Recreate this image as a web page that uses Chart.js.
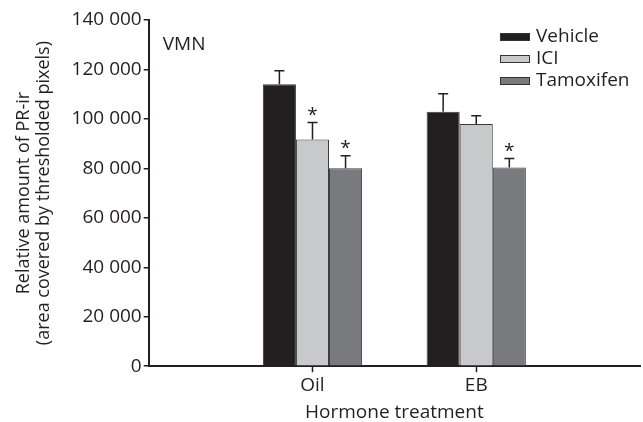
<!DOCTYPE html>
<html>
<head>
<meta charset="utf-8">
<script src="https://cdn.jsdelivr.net/npm/chart.js@4.4.0/dist/chart.umd.min.js"></script>
<style>
    html, body { margin: 0; padding: 0; background: #fff; }
    #wrap { width: 643px; height: 422px; }
</style>
</head>
<body>
<div id="wrap"><canvas id="chart"></canvas></div>
<script>
// ---- data ----
const categories = ['', 'Oil', 'EB', ''];
const seriesNames = ['Vehicle', 'ICI', 'Tamoxifen'];
const vehicle = [null, 114000, 102900, null];
const ici = [null, 91700, 97900, null];
const tamoxifen = [null, 80000, 80400, null];
const vehicleErr = [null, 5500, 7300, null];
const iciErr = [null, 6800, 3400, null];
const tamoxifenErr = [null, 5100, 3600, null];
// significance stars (*) per bar
const vehicleStar = [false, false, false, false];
const iciStar = [false, true, false, false];
const tamoxifenStar = [false, true, true, false];
const yTicks = [0, 20000, 40000, 60000, 80000, 100000, 120000, 140000];
const yTickLabels = ['0', '20 000', '40 000', '60 000', '80 000', '100 000', '120 000', '140 000'];
const panelLabel = 'VMN';

const FONT = '"Open Sans", "DejaVu Sans", sans-serif';
const INK = '#231f20';
const fills = ['#231f20', '#c8c9cb', '#797a7d'];
const errs = [vehicleErr, iciErr, tamoxifenErr];
const stars = [vehicleStar, iciStar, tamoxifenStar];

// error bars (upper only), stars, panel label, legend, x tick marks
const extras = {
    id: 'extras',
    afterDatasetsDraw(chart) {
        const ctx = chart.ctx;
        const x = chart.scales.x;
        const y = chart.scales.y;
        ctx.save();
        ctx.strokeStyle = INK;
        ctx.fillStyle = INK;
        ctx.lineWidth = 1.5;

        // tick marks under the named categories only
        categories.forEach((c, i) => {
            if (!c) return;
            const px = Math.round(x.getPixelForValue(i)) + 0.5;
            ctx.beginPath();
            ctx.moveTo(px, x.top);
            ctx.lineTo(px, x.top + 6);
            ctx.stroke();
        });

        chart.data.datasets.forEach((ds, i) => {
            const meta = chart.getDatasetMeta(i);
            meta.data.forEach((bar, j) => {
                const v = ds.data[j];
                if (v == null) return;
                const top = y.getPixelForValue(v + errs[i][j]);
                ctx.beginPath();
                ctx.moveTo(bar.x, bar.y);
                ctx.lineTo(bar.x, top);
                ctx.moveTo(bar.x - 5, top);
                ctx.lineTo(bar.x + 5, top);
                ctx.stroke();
                if (stars[i][j]) {
                    ctx.font = '19px ' + FONT;
                    ctx.textAlign = 'center';
                    ctx.textBaseline = 'middle';
                    ctx.fillText('*', bar.x, top - 7);
                }
            });
        });

        const area = chart.chartArea;
        ctx.font = '19px ' + FONT;
        ctx.textAlign = 'left';
        ctx.textBaseline = 'middle';
        ctx.fillText(panelLabel, area.left + 14, 45);

        // legend
        seriesNames.forEach((name, i) => {
            const cy = 37 + i * 22;
            ctx.fillStyle = fills[i];
            ctx.fillRect(500, cy - 3.5, 30, 7);
            ctx.lineWidth = 1;
            ctx.strokeStyle = '#333';
            ctx.strokeRect(500.5, cy - 3.5, 29, 7);
            ctx.fillStyle = INK;
            ctx.fillText(name, 536, cy);
        });
        ctx.restore();
    }
};

const chart = new Chart(document.getElementById('chart'), {
    type: 'bar',
    data: {
        labels: categories,
        datasets: [vehicle, ici, tamoxifen].map((d, i) => ({
            label: seriesNames[i],
            data: d,
            backgroundColor: fills[i],
            borderColor: '#3a3a3a',
            borderWidth: 1,
            categoryPercentage: 0.606,
            barPercentage: 1
        }))
    },
    options: {
        responsive: true,
        maintainAspectRatio: false,
        animation: false,
        layout: { padding: { top: 20, right: 3, bottom: 0, left: 14 } },
        plugins: {
            legend: { display: false },
            tooltip: { enabled: false }
        },
        scales: {
            x: {
                offset: false,
                grid: {
                    offset: false,
                    drawOnChartArea: false,
                    tickLength: 5,
                    tickColor: 'rgba(0,0,0,0)'
                },
                border: { color: INK, width: 2 },
                ticks: { color: INK, font: { family: FONT, size: 19 }, padding: 3, maxRotation: 0, autoSkip: false },
                title: {
                    display: true,
                    text: 'Hormone treatment',
                    color: INK,
                    font: { family: FONT, size: 19, lineHeight: 1.0 },
                    padding: { top: 3, bottom: 0 }
                }
            },
            y: {
                min: 0,
                max: 140000,
                afterBuildTicks: s => { s.ticks = yTicks.map(v => ({ value: v })); },
                grid: { drawOnChartArea: false, tickLength: 5, lineWidth: 1.5, color: INK },
                border: { color: INK, width: 2 },
                ticks: {
                    color: INK,
                    font: { family: FONT, size: 19 },
                    padding: 2,
                    callback: (v, i) => yTickLabels[i]
                },
                title: {
                    display: true,
                    text: ['Relative amount of PR-ir', '(area covered by thresholded pixels)'],
                    color: INK,
                    font: { family: FONT, size: 18, lineHeight: 1.1 },
                    padding: { top: 0, bottom: 16 }
                }
            }
        }
    },
    plugins: [extras]
});
</script>
</body>
</html>
